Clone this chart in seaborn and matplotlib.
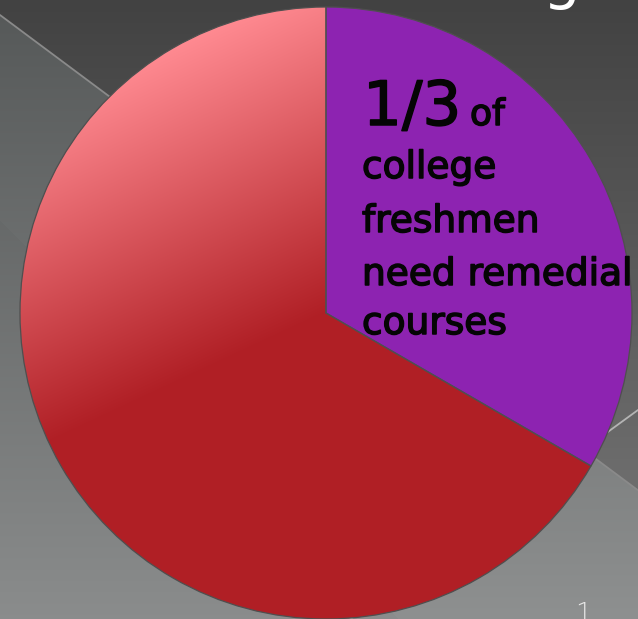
import numpy as np
import matplotlib
matplotlib.use("Agg")
import matplotlib.pyplot as plt
import matplotlib.patheffects as pe
import seaborn as sns
from matplotlib.colors import to_rgb

# ---- data ----
categories = ["Need remedial courses", "Do not need remedial courses"]
shares = [1 / 3, 2 / 3]
slice_colors = ["#8d23b1", "#b01f25"]
label_lines = ["college", "freshmen", "need remedial", "courses"]
headline = "1/3"
headline_suffix = "of"
slide_number = "1"

sns.set_theme(style="white")
plt.rcParams["font.family"] = ["DejaVu Sans"]

W, H = 638, 619
fig = plt.figure(figsize=(W / 100, H / 100), dpi=100)
ax = fig.add_axes([0, 0, 1, 1])

# ---- background (slide decoration) ----
yy, xx = np.mgrid[0:H, 0:W].astype(float)  # yy is y-down pixel row
diag = 15 + 0.745 * xx
above = yy < diag
c_top = np.array(to_rgb("#424242"))
c_mid = np.array(to_rgb("#6c6c6c"))
c_lt0 = np.array(to_rgb("#555858"))
c_lt1 = np.array(to_rgb("#8e9090"))
s_above = np.clip(yy / 470.0, 0, 1)[..., None]
s_below = np.clip(yy / 619.0, 0, 1)[..., None]
img_above = c_top * (1 - s_above) + c_mid * s_above
img_below = c_lt0 * (1 - s_below) + c_lt1 * s_below
lowleft = yy > (220 + xx)
img_below = np.where(lowleft[..., None], img_below * 0.975, img_below)
bg = np.where(above[..., None], img_above, img_below)
ax.imshow(bg, extent=(0, W, 0, H), origin="upper", zorder=0, interpolation="bilinear")

# decorative lines (y-up coordinates)
ax.plot([0, 638], [H - 15, H - (15 + 0.745 * 638)], color="#8a8a8a", lw=1.3, zorder=1)
ax.plot([330, 638], [H - 634, H - 410], color="#b4b4b4", lw=1.3, zorder=1)

# ---- pie ----
cx, cy, R = 326, H - 313, 306
wedges, _ = ax.pie(shares, colors=slice_colors, startangle=90, counterclock=False,
                   center=(cx, cy), radius=R,
                   wedgeprops=dict(edgecolor="#4f4f4f", linewidth=0.9))
for w in wedges:
    w.set_zorder(3)

# gradient fill for the large slice
red_w = wedges[1]
dx = (xx - cx) / R
dy = ((H - yy) - cy) / R
t = dx * 0.423 + dy * (-0.906)
s = np.clip(1 + t, 0, 1)[..., None]
light = np.array(to_rgb("#ff8a91"))
dark = np.array(to_rgb(slice_colors[1]))
grad = light * (1 - s) + dark * s
im = ax.imshow(grad, extent=(0, W, 0, H), origin="upper", zorder=2.5, interpolation="bilinear")
im.set_clip_path(red_w)
red_w.set_facecolor("none")

# ---- texts ----
thick = [pe.withStroke(linewidth=1.1, foreground="#050505")]
ax.text(363, H - 125, headline, fontsize=44, color="#050505", ha="left", va="baseline",
        zorder=5, path_effects=thick)
ax.text(470, H - 125, headline_suffix, fontsize=26, color="#050505", ha="left", va="baseline",
        zorder=5, path_effects=thick)
for line, base in zip(label_lines, [178, 232, 285, 334]):
    ax.text(362, H - base, line, fontsize=27, color="#050505", ha="left", va="baseline",
            zorder=5, path_effects=thick)

ax.text(543, H + 3, "g", fontsize=43, color="white", ha="left", va="baseline", zorder=5, clip_on=False)
ax.text(575, H - 622, slide_number, fontsize=19, color="#e8e8e8", ha="left", va="baseline",
        fontweight="light", zorder=5, clip_on=False)

ax.set_xlim(0, W)
ax.set_ylim(0, H)
ax.set_aspect("auto")
ax.axis("off")
fig.savefig("out.png", dpi=100)
